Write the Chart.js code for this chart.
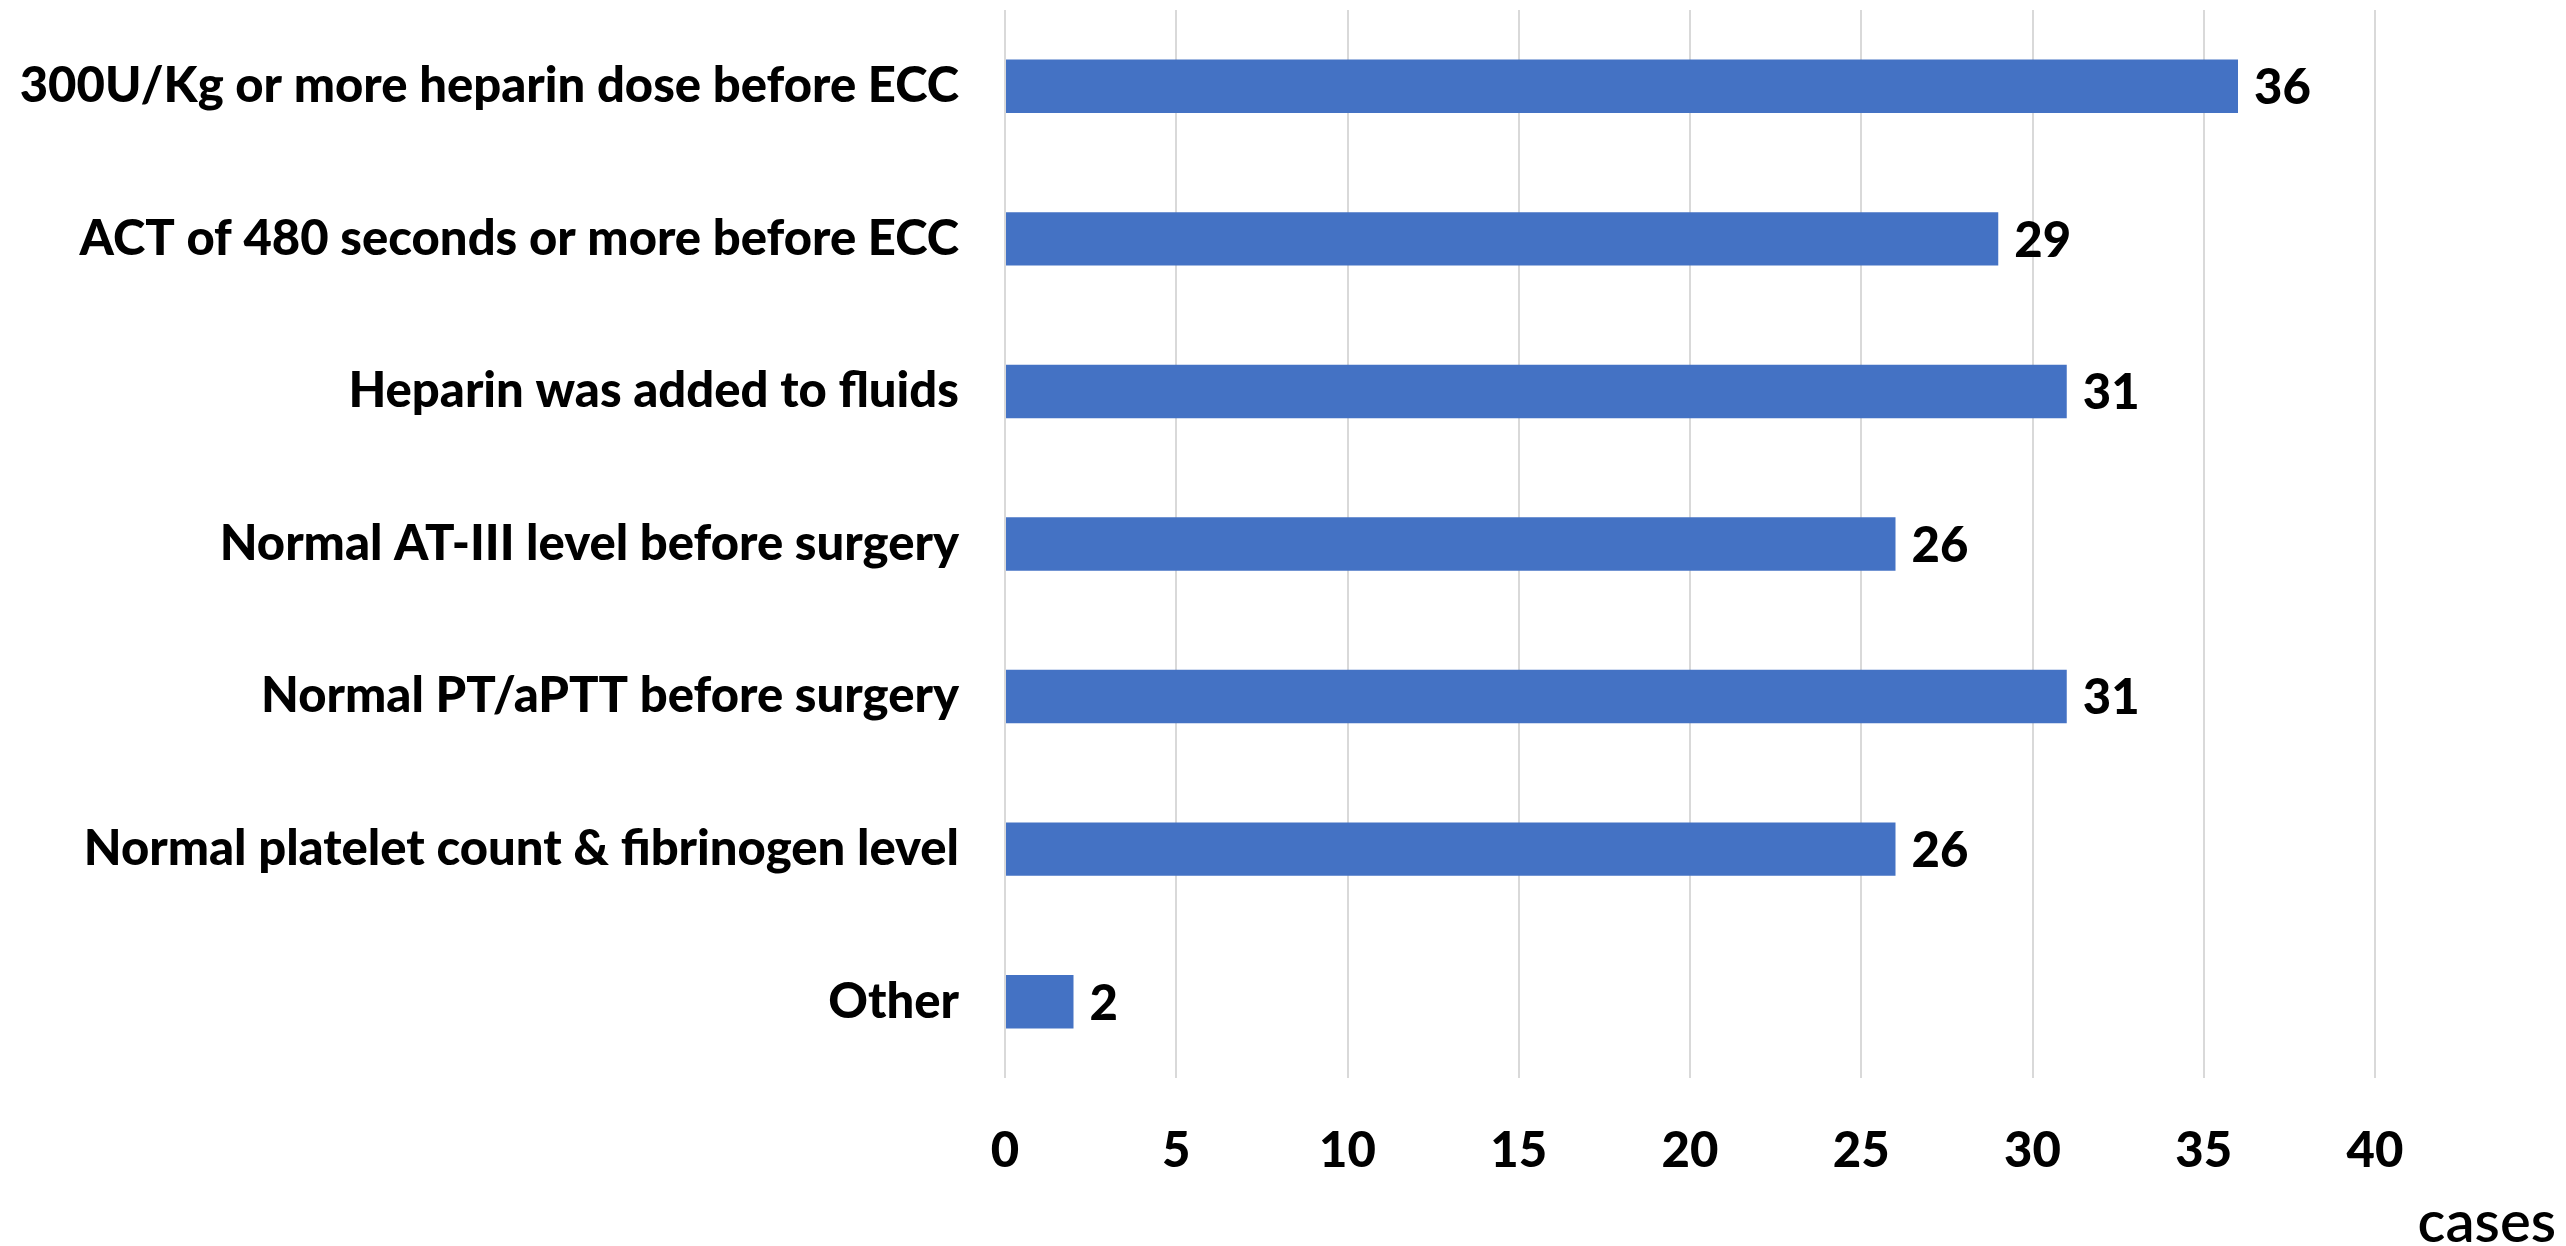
<!DOCTYPE html>
<html>
<head>
<meta charset="utf-8">
<script src="https://cdn.jsdelivr.net/npm/chart.js@4"></script>
<style>
  body { margin: 0; background: #fff; }
  canvas { display: block; }
</style>
</head>
<body>
<canvas id="cases-chart" width="2566" height="1246"></canvas>
<script>
const reasons = [
    '300U/Kg or more heparin dose before ECC',
    'ACT of 480 seconds or more before ECC',
    'Heparin was added to fluids',
    'Normal AT-III level before surgery',
    'Normal PT/aPTT before surgery',
    'Normal platelet count & fibrinogen level',
    'Other'
];
const caseCounts = [36, 29, 31, 26, 31, 26, 2];
const xTicks = [0, 5, 10, 15, 20, 25, 30, 35, 40];
const unitLabel = 'cases';

const fontFamily = 'Lato, "Open Sans", sans-serif';
const labelFont = { family: fontFamily, size: 49, weight: '900' };

// value labels next to each bar + the "cases" unit in the corner
const barLabels = {
    id: 'barLabels',
    afterDatasetsDraw(chart) {
        const ctx = chart.ctx;
        const meta = chart.getDatasetMeta(0);
        ctx.save();
        ctx.font = '900 49px ' + fontFamily;
        ctx.fillStyle = '#000';
        ctx.textAlign = 'left';
        ctx.textBaseline = 'middle';
        meta.data.forEach(function (bar, i) {
            ctx.fillText(caseCounts[i], bar.x + 16, bar.y + 2);
        });
        ctx.font = '600 58px ' + fontFamily;
        ctx.textAlign = 'right';
        ctx.textBaseline = 'alphabetic';
        ctx.fillText(unitLabel, chart.width - 10, chart.height - 4);
        ctx.restore();
    }
};

const casesCanvas = document.getElementById('cases-chart');
const casesChart = new Chart(casesCanvas, {
    type: 'bar',
    data: {
        labels: reasons,
        datasets: [{
            data: caseCounts,
            backgroundColor: '#4472C4',
            borderWidth: 0,
            categoryPercentage: 1,
            barPercentage: 0.35
        }]
    },
    options: {
        indexAxis: 'y',
        responsive: false,
        devicePixelRatio: 1,
        animation: false,
        layout: {
            padding: { top: 10, right: 191, left: 0, bottom: 0 }
        },
        scales: {
            x: {
                min: 0,
                max: 40,
                afterBuildTicks: function (scale) {
                    scale.ticks = xTicks.map(v => ({ value: v }));
                },
                afterFit: function (scale) {
                    scale.height = 168;
                    scale.paddingLeft = 0;
                    scale.paddingRight = 0;
                },
                ticks: {
                    color: '#000',
                    font: labelFont,
                    padding: 44,
                    maxRotation: 0
                },
                grid: {
                    color: '#d9d9d9',
                    lineWidth: 2,
                    drawTicks: false
                },
                border: { display: false }
            },
            y: {
                afterFit: function (scale) {
                    scale.width = 1005;
                    scale.paddingTop = 0;
                    scale.paddingBottom = 0;
                },
                ticks: {
                    color: '#000',
                    font: labelFont,
                    padding: 46
                },
                grid: { display: false, drawTicks: false },
                border: { display: false }
            }
        },
        plugins: {
            legend: { display: false },
            tooltip: { enabled: false }
        }
    },
    plugins: [barLabels]
});
</script>
</body>
</html>
